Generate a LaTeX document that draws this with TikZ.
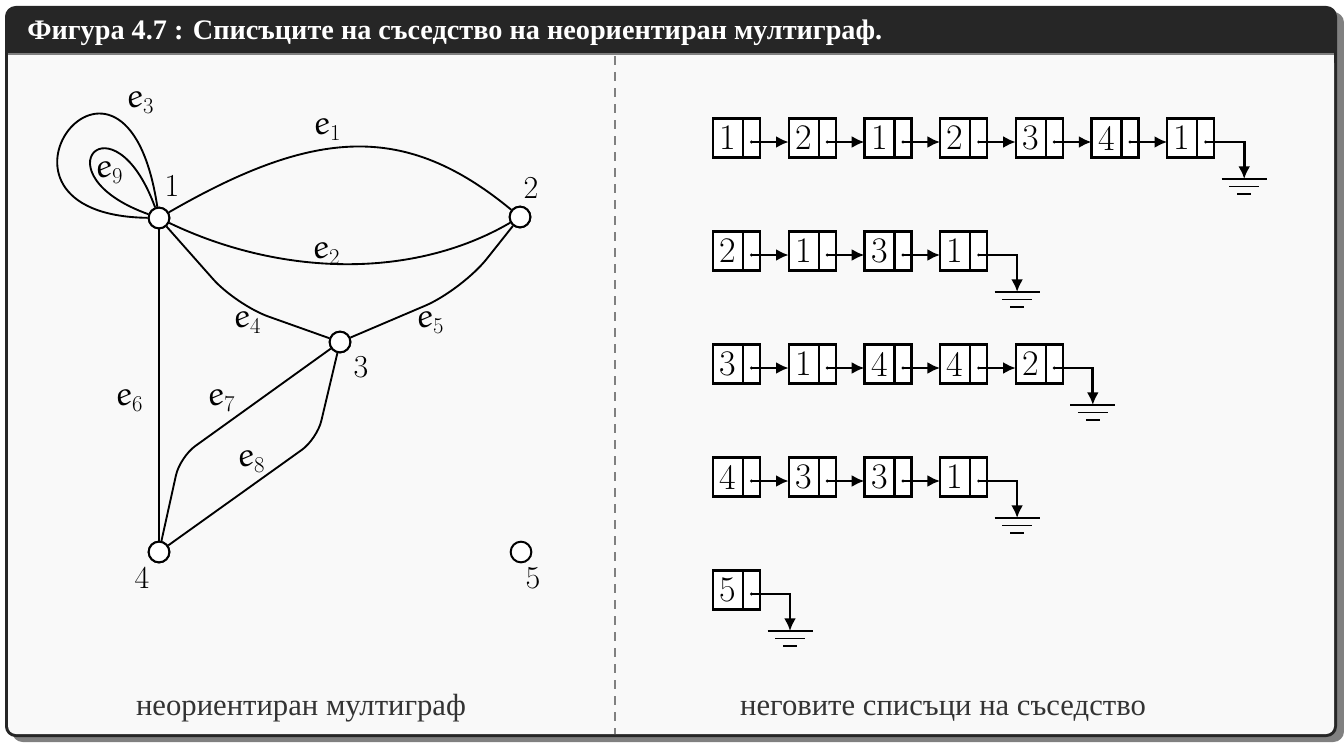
\documentclass[tikz,border=0pt]{standalone}
\usepackage{fontspec}
\usetikzlibrary{arrows.meta,calc}
\newfontfamily\cyr{Liberation Serif}
\definecolor{framecol}{HTML}{262626}
\definecolor{shadowcol}{HTML}{808080}
\definecolor{bodycol}{HTML}{F9F9F9}
\definecolor{capcol}{HTML}{333333}
\newcommand\eulerE{{\usefont{U}{eur}{m}{n}e}}
\newcommand\elab[1]{\fontsize{24.88}{25}\selectfont\eulerE\raisebox{-0.2em}{\fontsize{17}{17}\selectfont #1}}
\begin{document}
\begin{tikzpicture}[x=0.75pt,y=-0.75pt,
  vtx/.style={circle,draw,fill=white,line width=1.5pt,minimum size=15.5pt,inner sep=0pt},
  edgeline/.style={line width=1.4pt},
  vlab/.style={font=\fontsize{24}{24}\selectfont,inner sep=0pt},
  elabel/.style={inner sep=0pt},
  dcell/.style={draw,fill=white,line width=1.7pt,minimum width=22.5pt,minimum height=29.25pt,inner sep=0pt,outer sep=0pt,font=\fontsize{27}{27}\selectfont},
  pcell/.style={draw,fill=white,line width=1.7pt,minimum width=12.75pt,minimum height=29.25pt,inner sep=0pt,outer sep=0pt,anchor=west},
  ptr/.style={line width=2pt,-{Latex[length=9.5pt,width=9pt]}},
  gline/.style={line width=1.2pt},
  caption/.style={font=\cyr\fontsize{23}{23}\selectfont,text=capcol,anchor=base,inner sep=0pt}
]
\useasboundingbox (0,0) rectangle (1344,742);
% frame
\fill[shadowcol,rounded corners=8pt] (12,12) rectangle (1344,742);
\fill[framecol,rounded corners=8pt] (5,6) rectangle (1337,737);
\fill[bodycol,rounded corners=6pt] (8,55) rectangle (1334,734);
\fill[bodycol] (8,55) rectangle (1334,90);
\draw[gray,line width=0.8pt] (8,54) -- (1334,54);
\node[anchor=base west,text=white,font=\cyr\bfseries\fontsize{21.2}{22}\selectfont,inner sep=0pt] (title) at (27,40) {Фигура 4.7 : Списъците на съседство на неориентиран мултиграф.};
\draw[gray,line width=0.8pt,dash pattern=on 6.75pt off 5.25pt] (615,56) -- (615,734);

% graph
\node[vtx] (n1) at (159,218) {};
\node[vtx] (n2) at (520,217) {};
\node[vtx] (n3) at (340,342) {};
\node[vtx] (n4) at (159,552) {};
\node[vtx] (n5) at (521,552) {};
\node[vlab] (t1) at (172,186) {1};
\node[vlab] (t2) at (531,188) {2};
\node[vlab] (t3) at (361,367) {3};
\node[vlab] (t4) at (142,578) {4};
\node[vlab] (t5) at (533,578) {5};

\draw[edgeline] (n1) -- (n4);
\draw[edgeline] (n1) .. controls (315,128) and (405,122) .. (n2);
\draw[edgeline] (n1) .. controls (280,276) and (412,280) .. (n2);
\draw[edgeline] (n1) .. controls (-45,215) and (125,-8) .. (n1);
\draw[edgeline] (n1) .. controls (36,174) and (113,92) .. (n1);
\draw[edgeline,rounded corners=26pt] (n1) -- (236,305) -- (n3);
\draw[edgeline,rounded corners=30pt] (n3) -- (462,290) -- (n2);
\draw[edgeline,rounded corners=14pt] (n4) -- (180,457) -- (n3);
\draw[edgeline,rounded corners=14pt] (n4) -- (317,439) -- (n3);
% redraw vertices on top
\node[vtx] at (n1) {};
\node[vtx] at (n2) {};
\node[vtx] at (n3) {};
\node[vtx] at (n4) {};

\node[elabel] (l1) at (327,130) {\elab{1}};
\node[elabel] (l2) at (326,254) {\elab{2}};
\node[elabel] (l3) at (140,103) {\elab{3}};
\node[elabel] (l4) at (247,323) {\elab{4}};
\node[elabel] (l5) at (430,323) {\elab{5}};
\node[elabel] (l6) at (129,401) {\elab{6}};
\node[elabel] (l7) at (221,401) {\elab{7}};
\node[elabel] (l8) at (251,462) {\elab{8}};
\node[elabel] (l9) at (109,173) {\elab{9}};

% adjacency lists
\foreach \r/\yy/\lst/\last in {1/138/{1,2,1,2,3,4,1}/6, 2/251/{2,1,3,1}/3, 3/364/{3,1,4,4,2}/4, 4/477/{4,3,3,1}/3, 5/590/{5}/0}{
  \foreach \v [count=\k from 0] in \lst {
    \node[dcell] (a\r-\k) at ({728+75.7*\k},\yy) {\v};
    \node[pcell] (p\r-\k) at (a\r-\k.east) {};
    \fill ([yshift=-3pt]p\r-\k.center) circle (1.2pt);
    \ifnum\k>0
      \pgfmathtruncatemacro\prev{\k-1}
      \draw[ptr] ([yshift=-3pt]p\r-\prev.center) -- ([yshift=-3pt]a\r-\k.west);
    \fi
  }
  \coordinate (g\r) at ({713+75.7*\last+77},{\yy+41});
  \draw[ptr] ([yshift=-3pt]p\r-\last.center) -| (g\r);
  \draw[gline] ($(g\r)+(-22.5,0)$) -- ++(45,0);
  \draw[gline] ($(g\r)+(-15,7.5)$) -- ++(30,0);
  \draw[gline] ($(g\r)+(-7,15)$) -- ++(14,0);
}

\node[caption] (cap1) at (301,715) {неориентиран мултиграф};
\node[caption] (cap2) at (943,715) {неговите списъци на съседство};
\end{tikzpicture}
\end{document}
